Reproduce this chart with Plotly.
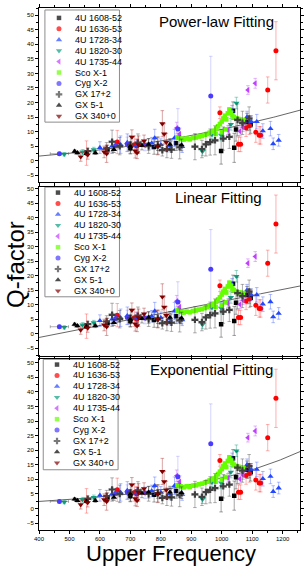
import numpy as np
import plotly.graph_objects as go

# ---------------- data ----------------
names = ["4U 1608-52", "4U 1636-53", "4U 1728-34", "4U 1820-30", "4U 1735-44",
         "Sco X-1", "Cyg X-2", "GX 17+2", "GX 5-1", "GX 340+0"]

f_1608 = [625, 700, 778, 850, 998, 1041, 1037, 1047, 1083, 1095]
q_1608 = [3.8, 4.3, 4.7, 6.0, 3.3, 4.4, 17.2, 10.7, 13.3, 12.4]
e_1608 = [1.5, 2.0, 2.5, 2.5, 4.5, 5.0, 3.0, 4.0, 3.0, 3.0]

f_1636 = [556, 657, 713, 721, 994, 1055, 1062, 1080, 1091, 1112, 1123, 1128, 1151, 1178]
q_1636 = [2.6, 6.4, 5.5, 5.0, 16.5, 5.6, 5.6, 11.3, 12.0, 9.8, 8.7, 8.7, 24.3, 37.8]
e_1636 = [4.2, 4.0, 3.0, 2.5, 2.0, 2.5, 2.5, 3.0, 3.0, 3.5, 3.0, 3.0, 4.5, 10.0]

f_1728 = [600, 640, 668, 690, 720, 770, 780, 800, 830, 845, 870, 1034, 1083, 1097, 1115, 1135, 1160, 1169, 1187]
q_1728 = [4.5, 5.0, 5.5, 6.2, 5.2, 6.0, 7.8, 5.5, 5.0, 7.8, 4.8, 17.0, 15.0, 13.4, 13.4, 10.2, 11.0, 5.8, 7.0]
e_1728 = [2, 2, 3, 3, 2, 2, 3, 2, 2, 3, 2, 2, 2, 2, 2.5, 2.5, 2.5, 2, 2]

f_1820 = [483, 543, 580, 937, 968, 998, 1030, 1048]
q_1820 = [2.2, 3.0, 3.8, 3.2, 9.0, 8.8, 12.5, 19.8]
e_1820 = [0.6, 0.8, 0.8, 1.5, 1.5, 2.0, 2.0, 2.0]

f_1735 = [852, 862, 1020, 1060, 1070, 1086, 1110]
q_1735 = [11.2, 9.2, 10.5, 10.1, 11.5, 24.3, 26.6]
e_1735 = [2.0, 2.0, 1.5, 1.5, 1.5, 1.5, 1.7]

f_sco = [855, 865, 875, 885, 895, 905, 915, 925, 935, 945, 952, 960, 968, 975, 982, 988, 994,
         1000, 1005, 1010, 1015, 1020, 1025, 1030, 1035, 1040, 1048, 1055, 1062, 1070, 980, 1000, 1012]
q_sco = [8.0, 7.6, 7.3, 7.6, 7.4, 7.8, 8.0, 8.3, 8.5, 8.9, 9.2, 9.6, 9.9, 10.3, 11.0, 11.8, 12.6,
         13.5, 14.5, 15.4, 14.2, 16.3, 17.6, 16.5, 15.6, 15.0, 14.6, 14.3, 14.1, 14.0, 9.2, 9.8, 10.8]
e_sco = [0.6] * len(f_sco)

f_cyg = [467, 652, 690, 748, 856, 964]
q_cyg = [2.4, 5.2, 5.6, 5.4, 10.9, 22.2]
e_cyg = [0.6, 1.5, 2.5, 2.0, 7.0, 13.7]
ex_cyg = [30, 0, 0, 0, 0, 0]

f_gx17 = [560, 622, 640, 665, 700, 725, 760, 790, 805, 820, 835, 862, 912, 935, 948, 962, 978, 1005, 1025, 1052, 1068, 1090]
q_gx17 = [3.3, 4.2, 6.5, 5.0, 5.5, 6.2, 5.0, 5.2, 3.6, 4.0, 3.8, 4.6, 4.8, 4.0, 5.6, 6.4, 7.0, 7.6, 8.2, 14.0, 13.0, 14.5]
e_gx17 = [1, 2, 4, 3, 3, 3, 2.5, 3, 2, 3, 3, 4, 4.5, 3, 4, 4.5, 5, 4, 4, 5.5, 4, 4]
ex_gx17 = [12] + [10] * 21

f_gx5 = [517, 526, 556, 585, 646, 700, 738, 760, 790, 830, 868]
q_gx5 = [3.2, 2.7, 2.4, 2.7, 3.8, 4.9, 5.2, 5.6, 5.0, 5.6, 5.4]
e_gx5 = [0.5, 0.5, 0.6, 0.6, 1.0, 1.5, 1.5, 2.0, 1.5, 2.0, 2.0]

f_gx340 = [537, 560, 614, 622, 705, 716, 722, 727, 745, 790, 805, 811, 818]
q_gx340 = [1.3, 2.0, 3.0, 2.4, 8.1, 3.4, 2.7, 5.5, 6.8, 5.0, 12.7, 9.2, 6.3]
e_gx340 = [1.5, 1.5, 2.0, 3.0, 2.5, 2.5, 2.0, 3.0, 2.0, 3.0, 4.5, 3.5, 3.0]

# fitted model parameters
pow_a, pow_b = 5.38e-6, 2.1          # Q = a * f^b
lin_m, lin_c = 0.0207, -9.58         # Q = m f + c
exp_A, exp_t = 0.903, 409.0          # Q = A exp(f/t)
panel_titles = ["Power-law Fitting", "Linear Fitting", "Exponential Fitting"]
x_ticks = [400, 500, 600, 700, 800, 900, 1000, 1100, 1200]

# ---------------- styles ----------------
series = [
    (f_1608, q_1608, e_1608, None, "square", "#000000", "rgba(0,0,0,0.45)", 4.5),
    (f_1636, q_1636, e_1636, None, "circle", "#ff0000", "rgba(255,60,60,0.5)", 5),
    (f_1728, q_1728, e_1728, None, "triangle-up", "#2448ff", "rgba(60,90,255,0.5)", 5.5),
    (f_1820, q_1820, e_1820, None, "triangle-down", "#10a080", "rgba(0,150,120,0.5)", 5.5),
    (f_1735, q_1735, e_1735, None, "triangle-left", "#c040ff", "rgba(190,80,255,0.5)", 5.5),
    (f_sco, q_sco, e_sco, None, "square", "#66ff00", "rgba(100,220,0,0.6)", 4.5),
    (f_cyg, q_cyg, e_cyg, ex_cyg, "circle", "#4a3cff", "rgba(100,100,255,0.35)", 5),
    (f_gx17, q_gx17, e_gx17, ex_gx17, "cross", "#404040", "rgba(60,60,60,0.5)", 5.5),
    (f_gx5, q_gx5, e_gx5, None, "triangle-up", "#000000", "rgba(0,0,0,0.45)", 5.5),
    (f_gx340, q_gx340, e_gx340, None, "triangle-down", "#800000", "rgba(160,30,30,0.5)", 5.5),
]

FONT = "Liberation Sans, Arial, sans-serif"
L, R, T, B = 39, 4, 4, 38
W, H = 308, 568
PW, PH = W - L - R, H - T - B

def px_x(X):
    return (X - L) / PW

def px_y(Y):
    return (H - B - Y) / PH

# panel pixel extents (top, bottom) and y ranges
panels = [(4, 179.5, [-7.4, 52.5]), (184, 355, [-7.8, 50.7]), (358, 530, [-7.4, 51.2])]
xr = [400, 1257]

fig = go.Figure()
ffit = np.linspace(xr[0], xr[1], 200)
fits = [pow_a * ffit ** pow_b, lin_m * ffit + lin_c, exp_A * np.exp(ffit / exp_t)]

for p in range(3):
    xa = "x" if p == 0 else f"x{p+1}"
    ya = "y" if p == 0 else f"y{p+1}"
    fig.add_trace(go.Scatter(x=ffit, y=fits[p], mode="lines", xaxis=xa, yaxis=ya,
                             line=dict(color="#555555", width=0.9), showlegend=False,
                             hoverinfo="skip"))
    for (fx, qy, ey, ex, sym, col, ecol, sz) in series:
        kw = {}
        if ex is not None:
            kw["error_x"] = dict(type="data", array=ex, visible=True, color="rgba(90,90,90,0.6)",
                                 thickness=0.8, width=1.5)
        fig.add_trace(go.Scatter(
            x=fx, y=qy, mode="markers", xaxis=xa, yaxis=ya, showlegend=False,
            marker=dict(symbol=sym, color=col, size=sz, line=dict(width=0)),
            error_y=dict(type="data", array=ey, visible=True, color=ecol, thickness=0.8, width=1.8),
            **kw))

# custom legends
legend_geo = [  # (box left, box top, box right, box bottom, marker x, text x, first item y)
    (45, 6, 120.7, 119, 59.3, 73.3, 14),
    (45, 184.5, 120.7, 295, 58.3, 72.7, 190),
    (43.3, 358, 119.3, 469.3, 57.3, 71, 363.3),
]
step = 11.0
annotations = []
shapes = []
for p, (bx0, by0, bx1, by1, mx, tx, y0) in enumerate(legend_geo):
    shapes.append(dict(type="rect", xref="paper", yref="paper",
                       x0=px_x(bx0), x1=px_x(bx1), y0=px_y(by1), y1=px_y(by0),
                       line=dict(color="#8c8c8c", width=1), fillcolor="white", layer="below"))
    ys = [y0 + i * step for i in range(len(names))]
    fig.add_trace(go.Scatter(
        x=[mx] * len(names), y=ys, mode="markers", xaxis="x4", yaxis="y4", showlegend=False,
        hoverinfo="skip",
        marker=dict(symbol=[s[4] for s in series], color=[s[5] for s in series],
                    size=[s[7] for s in series], line=dict(width=0))))
    for nm, yy in zip(names, ys):
        annotations.append(dict(text=nm, xref="paper", yref="paper", x=px_x(tx), y=px_y(yy),
                                xanchor="left", yanchor="middle", showarrow=False,
                                font=dict(family=FONT, size=9, color="black")))

title_pos = [(219, 17.5), (221, 195), (214, 368)]
for t, (xx, yy) in zip(panel_titles, title_pos):
    annotations.append(dict(text=t, xref="paper", yref="paper", x=px_x(xx), y=px_y(yy),
                            xanchor="center", yanchor="middle", showarrow=False,
                            font=dict(family=FONT, size=15, color="black")))

annotations.append(dict(text="Q-factor", xref="paper", yref="paper", x=px_x(14.5), y=px_y(262),
                        xanchor="center", yanchor="middle", textangle=-90, showarrow=False,
                        font=dict(family=FONT, size=24, color="black")))
annotations.append(dict(text="Upper Frequency", xref="paper", yref="paper", x=px_x(173), y=px_y(553.5),
                        xanchor="center", yanchor="middle", showarrow=False,
                        font=dict(family=FONT, size=22, color="black")))

axis_common = dict(showline=True, linecolor="black", linewidth=1, mirror="ticks",
                   ticks="outside", ticklen=3, tickwidth=0.8, tickcolor="black",
                   showgrid=False, zeroline=False,
                   tickfont=dict(family=FONT, size=6, color="black"))

layout = dict(width=W, height=H, margin=dict(l=L, r=R, t=T, b=B, pad=0),
              paper_bgcolor="white", plot_bgcolor="rgba(0,0,0,0)",
              showlegend=False, annotations=annotations, shapes=shapes)

for p, (top, bot, yr) in enumerate(panels):
    xk = "xaxis" if p == 0 else f"xaxis{p+1}"
    yk = "yaxis" if p == 0 else f"yaxis{p+1}"
    ya = "y" if p == 0 else f"y{p+1}"
    xa = "x" if p == 0 else f"x{p+1}"
    layout[xk] = dict(axis_common, range=xr, domain=[0, 1], anchor=ya,
                      tickvals=x_ticks, showticklabels=(p == 2),
                      minor=dict(ticks="outside", ticklen=2, dtick=50, tick0=400, tickcolor="black", tickwidth=0.8))
    layout[yk] = dict(axis_common, range=yr, domain=[px_y(bot), px_y(top)], anchor=xa,
                      tick0=0, dtick=5,
                      minor=dict(ticks="outside", ticklen=2, dtick=2.5, tick0=0, tickcolor="black", tickwidth=0.8))

layout["xaxis4"] = dict(domain=[0, 1], range=[L, W - R], visible=False, anchor="y4", fixedrange=True)
layout["yaxis4"] = dict(domain=[0, 1], range=[H - B, T], visible=False, anchor="x4", fixedrange=True)

fig.update_layout(**layout)
fig.write_html("out.html", config={"displayModeBar": False},
               post_script="document.body.style.margin='0';document.body.style.overflow='hidden';")
